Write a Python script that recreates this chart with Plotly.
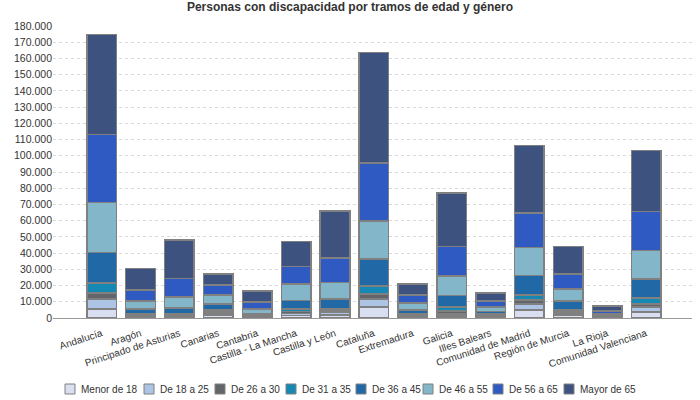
import plotly.graph_objects as go

regiones = ["Andalucía", "Aragón", "Principado de Asturias", "Canarias", "Cantabria",
            "Castilla - La Mancha", "Castilla y León", "Cataluña", "Extremadura", "Galicia",
            "Illes Balears", "Comunidad de Madrid", "Región de Murcia", "La Rioja",
            "Comunidad Valenciana"]

tramos = ["Menor de 18", "De 18 a 25", "De 26 a 30", "De 31 a 35",
          "De 36 a 45", "De 46 a 55", "De 56 a 65", "Mayor de 65"]

menor_18 = [5500, 800, 600, 1800, 450, 1430, 1800, 6750, 750, 1350, 950, 5000, 1800, 400, 3800]
de_18_25 = [6150, 700, 600, 1300, 400, 1220, 1500, 4900, 700, 1200, 700, 3600, 1400, 350, 2950]
de_26_30 = [3700, 600, 700, 1100, 500, 1250, 1000, 3100, 700, 1800, 600, 2500, 1100, 350, 1950]
de_31_35 = [6150, 550, 1000, 900, 300, 1600, 1200, 5100, 500, 2500, 400, 3100, 900, 200, 3500]
de_36_45 = [18900, 2860, 3250, 3470, 800, 5400, 6100, 16450, 2150, 7150, 1430, 12100, 5300, 500, 11750]
de_46_55 = [30900, 4900, 6750, 5530, 3050, 10000, 10300, 23600, 4400, 11800, 2650, 17300, 7400, 1000, 17650]
de_56_65 = [41900, 6940, 11500, 6100, 4400, 10900, 15000, 35500, 4900, 18200, 3670, 21050, 9100, 1500, 24100]
mayor_65 = [61600, 13060, 23800, 6800, 6600, 15400, 29000, 68400, 6800, 33000, 5000, 41650, 17200, 3000, 37500]

series = [menor_18, de_18_25, de_26_30, de_31_35, de_36_45, de_46_55, de_56_65, mayor_65]
colores = ["#d9dff0", "#adc4e4", "#62666b", "#1589b3", "#2069a6", "#82b6c8", "#2f5ac2", "#3e527f"]

# layout geometry (pixels)
W, H = 700, 400
ML, MR, MT, MB = 53, 8, 26, 82
PW, PH = W - ML - MR, H - MT - MB
legend_x = [65, 144, 215, 286, 356, 423, 493, 564]   # left edge of each legend square
legend_y = 389                                         # centre line of the legend row
SQ = 10

def px_x(px):
    return (px - ML) / PW

def px_y(py):
    return (H - MB - py) / PH

fig = go.Figure()
for nombre, vals, col in zip(tramos, series, colores):
    fig.add_trace(go.Bar(
        x=regiones, y=vals, name=nombre,
        marker=dict(color=col, line=dict(color="#808080", width=1.5)),
        width=0.76,
    ))

# custom legend row
for nombre, col, lx in zip(tramos, colores, legend_x):
    fig.add_shape(type="rect", xref="paper", yref="paper",
                  x0=px_x(lx), x1=px_x(lx + SQ),
                  y0=px_y(legend_y + SQ / 2), y1=px_y(legend_y - SQ / 2),
                  fillcolor=col, line=dict(color="#808080", width=1))
    fig.add_annotation(xref="paper", yref="paper", x=px_x(lx + SQ + 4), y=px_y(legend_y),
                       xanchor="left", yanchor="middle", text=nombre, showarrow=False,
                       font=dict(size=10, color="#333333"))

fig.update_layout(
    barmode="stack",
    width=W, height=H,
    margin=dict(l=ML, r=MR, t=MT, b=MB),
    paper_bgcolor="white", plot_bgcolor="white",
    separators=",.",
    font=dict(family="Liberation Sans, Arial, sans-serif", size=11, color="#333333"),
    title=dict(text="<b>Personas con discapacidad por tramos de edad y género</b>",
               x=0.5, xanchor="center", y=0.982, yanchor="middle",
               font=dict(size=12, color="#333333")),
    showlegend=False,
    bargap=0.24,
)
fig.update_xaxes(range=[-1.25, 15.18], tickangle=-18, showline=True, linecolor="#999999",
                 linewidth=1, ticks="", showgrid=False, tickfont=dict(size=10),
                 ticklabelstandoff=5, automargin=False)
fig.update_yaxes(range=[0, 180000], dtick=10000, tickformat=",d", showgrid=True,
                 gridcolor="#d9d9d9", griddash="3px,3px", zeroline=False, showline=False,
                 ticks="", tickfont=dict(size=10.5), automargin=False)

fig.write_html("out.html", config={"displayModeBar": False},
               post_script="document.body.style.margin='0';document.body.style.overflow='hidden';")
